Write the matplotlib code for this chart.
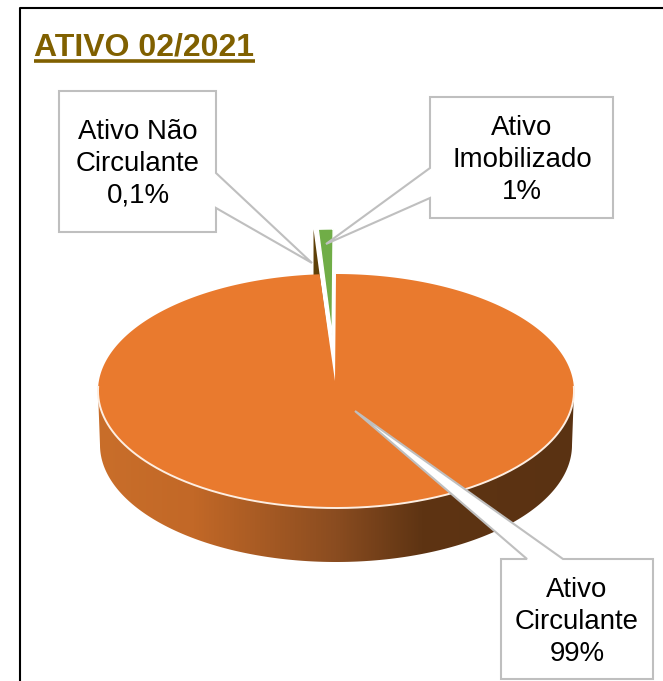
#!/usr/bin/env python

import numpy as np
import matplotlib
matplotlib.use("Agg")
import matplotlib.pyplot as plt
from matplotlib.colors import LinearSegmentedColormap
from matplotlib.patches import Polygon

plt.rcParams["font.family"] = ["Liberation Sans", "DejaVu Sans"]

TITLE = "ATIVO 02/2021"
LABELS = ["Ativo\nImobilizado\n1%", "Ativo Não\nCirculante\n0,1%", "Ativo\nCirculante\n99%"]
VALUES = [1.0, 0.1, 98.9]
COLORS = ["#70ad47", "#5e4008", "#e97a2e"]

# pie geometry in pixels
CX, CY = 336, 391
RX, RY = 238, 117
APEX_Y = 381
DEPTH = 53
EXPLODE = 0.385
START = 90.0
RIM = "#fdeee2"


def rim(theta, dx=0, dy=0, rx=RX, ry=RY):
    t = np.radians(theta)
    return np.column_stack([CX + rx * np.cos(t) + dx, CY - ry * np.sin(t) + dy])


def slice_poly(a0, a1, dx=0, dy=0):
    arc = rim(np.linspace(a0, a1, 400), dx, dy)
    return np.vstack([[CX - 1 + dx, APEX_Y + dy], arc])


def main():
    fig = plt.figure(figsize=(6.63, 6.81), dpi=100)
    ax = fig.add_axes([0, 0, 1, 1])
    ax.set_xlim(0, 663)
    ax.set_ylim(681, 0)
    ax.axis("off")

    # outer frame, only top and left show in the crop
    ax.plot([20, 20, 663], [681, 7.5, 7.5], color="black", lw=1.5, zorder=1)

    ax.text(34, 55.5, TITLE, fontsize=23, fontweight="bold", color="#806000",
            ha="left", va="baseline")
    ax.plot([34, 255], [60.5, 60.5], color="#806000", lw=2.6, solid_capstyle="butt")

    spans = np.array(VALUES) / sum(VALUES) * 360
    edges = START + np.concatenate([[0], np.cumsum(spans)])

    # exploded small slices first, the big one sits in front of them
    off = []
    for i in range(2):
        mid = np.radians((edges[i] + edges[i + 1]) / 2)
        off.append((RX * EXPLODE * np.cos(mid), -RY * EXPLODE * np.sin(mid)))

    # cut wall of the thin slice
    dx, dy = off[1]
    a = rim(edges[2], dx, dy)[0]
    wall = [a, a + [0, DEPTH], [CX - 1 + dx, APEX_Y + dy + 8]]
    ax.add_patch(Polygon(wall, closed=True, fc=COLORS[1], ec="none", zorder=2))
    ax.add_patch(Polygon(slice_poly(edges[1], edges[2], dx + 2.5, dy), closed=True,
                         fc="white", ec="white", lw=2.2, zorder=3))

    dx, dy = off[0]
    ax.add_patch(Polygon(slice_poly(edges[0], edges[1], dx, dy), closed=True,
                         fc=COLORS[0], ec="white", lw=1.0, zorder=4))

    # side wall of the big slice with the horizontal shading
    top = rim(np.linspace(180, 360, 300))
    bottom = rim(np.linspace(360, 180, 300), dy=DEPTH + 1, rx=RX - 2, ry=RY)
    wall = Polygon(np.vstack([top, bottom]), closed=True, fc="none", ec="none", zorder=5)
    ax.add_patch(wall)
    shade = LinearSegmentedColormap.from_list(
        "wall", [(0, "#c96e2a"), (0.2, "#c26827"), (0.5, "#8a4c20"),
                 (0.68, "#5e3413"), (1, "#5a3212")])
    im = ax.imshow(np.linspace(0, 1, 256)[None, :], cmap=shade, aspect="auto",
                   extent=[CX - RX, CX + RX, 570, 380], zorder=5)
    im.set_clip_path(wall)
    ax.set_xlim(0, 663)
    ax.set_ylim(681, 0)

    ax.add_patch(Polygon(slice_poly(edges[2], edges[3]), closed=True, fc=COLORS[2],
                         ec="none", zorder=6))
    front = rim(np.linspace(178, 362, 300))
    ax.plot(front[:, 0], front[:, 1], color=RIM, lw=1.4, zorder=6)

    # callout outlines with the pointer tip included
    boxes = [
        [(430, 97), (613, 97), (613, 218), (430, 218), (430, 198), (326, 244), (430, 168)],
        [(59, 91), (216, 91), (216, 173), (312, 263), (216, 208), (216, 232), (59, 232)],
        [(501, 559), (527, 559), (355, 411), (563, 559), (653, 559), (653, 679), (501, 679)],
    ]
    centers = [(522, 160), (138, 164), (577, 622)]
    for text, pts, (tx, ty) in zip(LABELS, boxes, centers):
        ax.add_patch(Polygon(pts, closed=True, fc="white", ec="#bfbfbf", lw=1.5,
                             joinstyle="miter", zorder=7))
        ax.text(tx, ty, text, fontsize=19.9, color="black",
                ha="center", va="center", linespacing=1.3, zorder=8)

    fig.savefig("out.png", dpi=100)
    plt.close(fig)


if __name__ == "__main__":
    main()
